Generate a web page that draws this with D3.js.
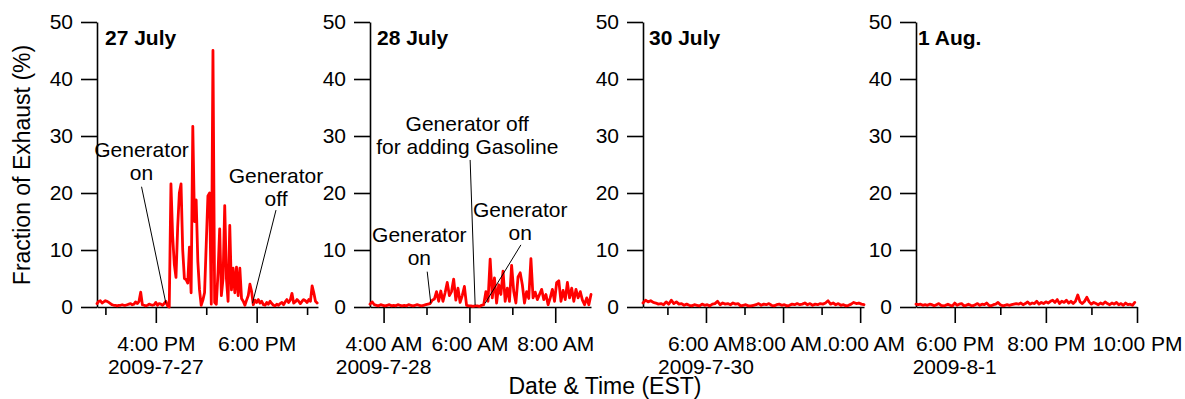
<!DOCTYPE html>
<html>
<head>
<meta charset="utf-8">
<script src="https://cdn.jsdelivr.net/npm/d3@7"></script>
<style>
  body { margin: 0; background: #fff; }
  svg text { font-family: "Liberation Sans", Arial, Helvetica, sans-serif; fill: #000; }
</style>
</head>
<body>
<svg id="chart" width="1185" height="399"></svg>
<script>
// ---- Readings: fraction of generator exhaust (%) sampled at a fixed step ----
const dayDates = ["2009-07-27", "2009-07-28", "2009-07-30", "2009-08-01"];
const dayTitles = ["27 July", "28 July", "30 July", "1 Aug."];
const dayStarts = ["14:50", "03:41", "04:22", "17:09"];   // first sample
const dayEnds = ["19:13", "08:50", "10:06", "22:00"];     // end of time axis
const dayStepMinutes = [2, 3, 4, 3];

const day1Values = [
  0.6,1.0,1.1,0.7,0.9,1.1,1.0,0.8,0.6,0.4,
  0.3,0.3,0.2,0.3,0.3,0.4,0.3,0.3,0.4,0.5,
  0.6,0.4,0.5,0.9,0.6,1.0,2.6,0.4,0.3,0.2,
  0.3,0.5,0.4,0.3,0.4,0.8,0.3,0.6,0.5,0.3,
  0.6,1.0,0.2,0.0,21.6,12.5,7.5,5.2,14.0,20.0,
  21.6,10.0,5.0,4.8,4.2,10.5,2.5,31.7,15.0,18.8,
  8.0,3.0,0.3,1.2,2.5,11.0,19.5,20.0,0.5,45.0,
  0.8,0.5,6.0,13.7,2.0,5.0,17.8,5.0,1.0,14.3,
  3.0,6.8,2.5,7.0,2.0,6.8,1.5,1.0,0.3,1.2,
  2.0,4.0,2.7,0.4,1.2,0.8,1.3,0.7,1.0,0.4,
  0.3,0.8,0.5,1.0,0.6,0.3,0.2,0.5,0.3,0.6,
  0.8,0.4,0.9,1.3,0.8,1.2,2.4,0.7,0.9,1.3,
  1.0,0.6,1.0,1.3,1.1,0.8,1.3,1.0,3.7,2.5,
  1.0,0.7
];
const day2Values = [
  0.5,0.9,0.4,0.3,0.2,0.4,0.3,0.2,0.3,0.4,
  0.2,0.3,0.2,0.4,0.3,0.2,0.3,0.2,0.4,0.3,
  0.2,0.3,0.4,0.3,0.2,0.3,0.4,0.5,0.6,1.2,
  1.4,2.7,1.0,2.8,1.0,2.5,4.3,2.0,2.7,4.9,
  1.2,3.3,0.8,2.0,3.6,0.3,0.2,0.2,0.1,0.2,
  0.2,0.1,0.3,0.4,2.7,1.0,8.4,1.6,5.1,0.7,
  3.9,2.2,6.3,1.0,3.3,1.0,7.3,2.7,0.7,5.3,
  6.0,3.9,0.7,2.7,1.5,8.5,1.6,2.6,1.3,2.2,
  3.1,1.3,2.2,0.4,1.6,3.1,1.0,4.3,4.6,1.0,
  2.9,1.3,4.3,1.6,3.3,1.0,3.1,1.6,2.7,1.2,
  0.4,1.6,0.4,2.2
];
const day3Values = [
  0.7,1.2,0.9,1.1,0.8,0.7,0.5,0.6,0.4,0.9,
  0.5,1.2,0.6,0.9,0.5,0.6,0.3,0.5,0.3,0.2,
  0.4,0.3,0.2,0.5,0.3,0.4,0.2,0.5,0.6,1.0,
  0.4,0.7,0.5,0.6,0.4,0.7,0.5,0.6,0.2,0.3,
  0.4,0.2,0.2,0.3,0.4,0.6,0.3,0.5,0.4,0.6,
  0.3,0.2,0.4,0.5,0.3,0.4,0.2,0.3,0.5,0.4,
  0.6,0.4,0.5,0.7,0.4,0.6,0.3,0.5,0.4,0.6,
  0.5,0.7,1.1,0.5,0.7,0.4,0.6,0.3,0.4,0.2,
  0.3,0.5,0.8,0.6,0.7,0.5,0.4
];
const day4Values = [
  0.5,0.4,0.5,0.3,0.4,0.3,0.5,0.4,0.2,0.4,
  0.6,0.3,0.2,0.3,0.5,0.3,0.2,0.7,0.3,0.5,
  0.6,0.2,0.3,0.5,0.3,0.2,0.4,0.6,0.3,0.5,
  0.4,0.7,0.3,0.2,0.4,0.5,0.8,0.4,0.2,0.3,
  0.4,0.3,0.4,0.5,0.6,0.5,0.7,0.4,0.6,0.9,
  0.5,0.7,0.6,1.0,0.5,0.8,0.6,0.9,0.7,1.0,
  1.2,0.8,1.3,0.6,1.0,0.8,1.2,0.7,1.0,0.6,
  1.0,2.1,0.9,0.6,1.0,1.7,0.9,0.5,0.8,0.6,
  0.4,0.7,0.5,0.9,0.6,0.4,0.7,0.5,0.8,0.4,
  0.6,0.3,0.7,0.4,0.5,0.3,0.8
];
const dayValues = [day1Values, day2Values, day3Values, day4Values];

const yTickValues = [0, 10, 20, 30, 40, 50];

// Event notes: label anchored at (time, value); leader from one (time, value) to another
const day1Notes = [
  { lines: ["Generator", "on"],  at: ["15:43", 26.3],  from: ["15:43", 21.1], to: ["16:12", 0.65] },
  { lines: ["Generator", "off"], at: ["18:23", 21.75], from: ["18:23", 17.0], to: ["17:55", 0.65] }
];
const day2Notes = [
  { lines: ["Generator off", "for adding Gasoline"], at: ["05:57", 30.9], from: ["06:01", 25.8], to: ["06:08", 0.35] },
  { lines: ["Generator", "on"], at: ["07:11", 15.8],  from: ["07:12", 10.9], to: ["06:22", 0.65] },
  { lines: ["Generator", "on"], at: ["04:50", 11.35], from: ["05:01", 6.2],  to: ["05:06", 0.65] }
];
const dayNotes = [day1Notes, day2Notes, [], []];

// ---- Layout ----
const plotTop = 22, plotBottom = 307, plotWidth = 221;
const panelLefts = [97, 370, 643, 916];
const titleInsets = [8, 7, 6, 2];
const fontSize = 21;
const axisStroke = 1.6;

const svg = d3.select("#chart");
const parseTime = d3.timeParse("%Y-%m-%d %H:%M");
const tickFormat = d3.timeFormat("%-I:%M %p");
const dateFormat = d3.timeFormat("%Y-%-m-%-d");

const y = d3.scaleLinear().domain([0, 50]).range([plotBottom, plotTop]);

dayDates.forEach((date, k) => {
  const left = panelLefts[k];
  const at = hm => parseTime(date + " " + hm);
  const x = d3.scaleTime()
    .domain([at(dayStarts[k]), at(dayEnds[k])])
    .range([left, left + plotWidth]);

  const g = svg.append("g");

  // y axis
  const ya = g.append("g")
    .attr("transform", `translate(${left},0)`)
    .call(d3.axisLeft(y).tickValues(yTickValues).tickSize(16).tickPadding(8).tickSizeOuter(0));
  ya.attr("font-size", fontSize).attr("font-family", null);
  ya.selectAll("path, line").attr("stroke", "#000").attr("stroke-width", axisStroke);

  // x axis: hourly ticks, labelled on even hours
  const [d0, d1] = x.domain();
  const hours = d3.timeHour.range(d0, d3.timeMinute.offset(d1, 1));
  const isMajor = d => d.getHours() % 2 === 0;
  const xa = g.append("g")
    .attr("transform", `translate(0,${plotBottom})`)
    .call(d3.axisBottom(x).tickValues(hours).tickSizeOuter(0)
      .tickFormat(d => isMajor(d) ? tickFormat(d) : ""));
  xa.attr("font-size", fontSize).attr("font-family", null);
  xa.selectAll("path, line").attr("stroke", "#000").attr("stroke-width", axisStroke);
  xa.selectAll(".tick line").attr("y2", d => isMajor(d) ? 16 : 8);
  xa.selectAll(".tick text").attr("y", 44).attr("dy", 0);

  // opaque label backgrounds; earlier hours are drawn on top of later ones
  xa.selectAll(".tick").each(function (d) {
    if (!isMajor(d)) return;
    const t = d3.select(this).select("text");
    const b = t.node().getBBox();
    d3.select(this).insert("rect", "text")
      .attr("x", b.x).attr("y", b.y).attr("width", b.width + 2).attr("height", b.height)
      .attr("fill", "#fff");
  });
  xa.selectAll(".tick").nodes().reverse().forEach(n => n.parentNode.appendChild(n));

  // date under the first labelled hour
  const firstMajor = hours.find(isMajor);
  g.append("text")
    .attr("x", x(firstMajor)).attr("y", plotBottom + 67)
    .attr("text-anchor", "middle").attr("font-size", fontSize)
    .text(dateFormat(firstMajor));

  // exhaust fraction trace
  const t0 = at(dayStarts[k]);
  const points = dayValues[k].map((v, i) => ({ t: d3.timeMinute.offset(t0, i * dayStepMinutes[k]), v }));
  const line = d3.line().x(d => x(d.t)).y(d => y(d.v));
  g.append("path")
    .datum(points)
    .attr("d", line)
    .attr("fill", "none")
    .attr("stroke", "#ff0000")
    .attr("stroke-width", 2.8)
    .attr("stroke-linejoin", "round")
    .attr("stroke-linecap", "round");

  // event notes
  dayNotes[k].forEach(n => {
    g.append("line")
      .attr("x1", x(at(n.from[0]))).attr("y1", y(n.from[1]))
      .attr("x2", x(at(n.to[0]))).attr("y2", y(n.to[1]))
      .attr("stroke", "#000").attr("stroke-width", 1);
    const txt = g.append("text")
      .attr("x", x(at(n.at[0]))).attr("y", y(n.at[1]))
      .attr("text-anchor", "middle").attr("font-size", fontSize);
    n.lines.forEach((s, i) => {
      txt.append("tspan")
        .attr("x", x(at(n.at[0])))
        .attr("dy", i === 0 ? 0 : "1.1em")
        .text(s);
    });
  });

  // day title
  g.append("text")
    .attr("x", left + titleInsets[k]).attr("y", 44.5)
    .attr("font-size", fontSize).attr("font-weight", "bold")
    .text(dayTitles[k]);
});

// axis titles
svg.append("text")
  .attr("transform", "translate(30,165) rotate(-90)")
  .attr("text-anchor", "middle").attr("font-size", 23)
  .text("Fraction of Exhaust (%)");
svg.append("text")
  .attr("x", 605).attr("y", 394)
  .attr("text-anchor", "middle").attr("font-size", 23)
  .text("Date & Time (EST)");
</script>
</body>
</html>
